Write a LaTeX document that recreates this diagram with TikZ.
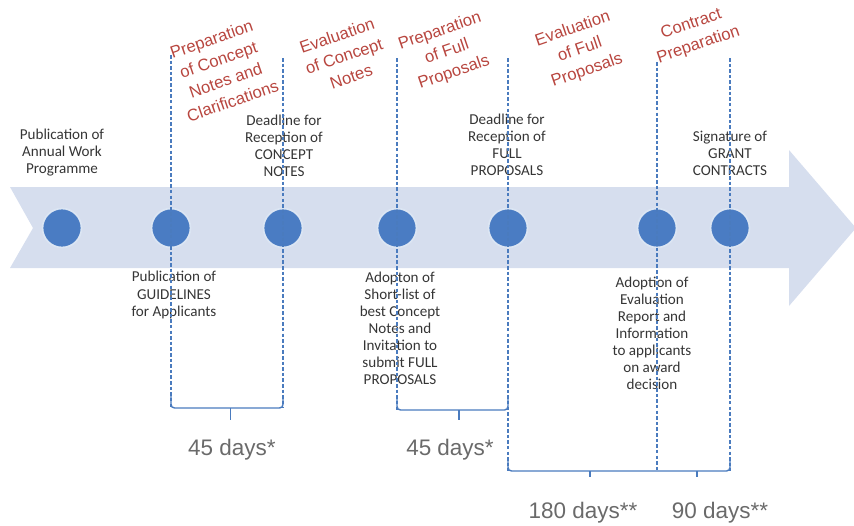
\documentclass[tikz,border=0pt]{standalone}
\usepackage{fontspec}
\setmainfont{Carlito}
\newfontfamily\arialfont{Liberation Sans}
\usetikzlibrary{positioning}
\definecolor{band}{HTML}{D6DEEE}
\definecolor{dot}{HTML}{4A7CC3}
\definecolor{guide}{HTML}{4A7BBE}
\definecolor{phasered}{HTML}{B8463F}
\definecolor{note}{HTML}{353535}
\definecolor{span}{HTML}{6A6A6A}

\begin{document}
\begin{tikzpicture}[x=0.02cm, y=-0.02cm,
        milestone/.style={circle, fill=dot, draw=white!80!dot, line width=1pt, minimum size=0.78cm, inner sep=0pt},
        event/.style={align=center, text=note, inner sep=0pt, font=\fontsize{8.6}{9.7}\selectfont},
        phase/.style={align=center, text=phasered, inner sep=0pt, rotate=19, font=\arialfont\fontsize{9.5}{12.4}\selectfont},
        guide/.style={draw=guide, line width=0.6pt, dash pattern=on 2pt off 1.2pt},
        bracket/.style={draw=guide, line width=0.8pt, rounded corners=2pt},
        days/.style={text=span, inner sep=0pt, font=\arialfont\fontsize{12.8}{14}\selectfont},
    ]
    \useasboundingbox (0,0) rectangle (854,525);
    % timeline arrow
    \fill[band] (10,187) -- (789,187) -- (789,150) -- (856,228) -- (789,306) -- (789,268) -- (10,268) -- (33,228) -- cycle;
    % milestones
    \node[milestone] (m1) at (62,228) {};
    \node[milestone] (m2) at (171,228) {};
    \node[milestone] (m3) at (283,228) {};
    \node[milestone] (m4) at (397,228) {};
    \node[milestone] (m5) at (508,228) {};
    \node[milestone] (m6) at (657,228) {};
    \node[milestone] (m7) at (730,228) {};
    % events
    \node[event] (e1) at (62,153) {Publication of\\Annual Work\\Programme};
    \node[event] (e2) at (174,295) {Publication of\\GUIDELINES\\for Applicants};
    \node[event] (e3) at (284,146) {Deadline for\\Reception of\\CONCEPT\\NOTES};
    \node[event] (e4) at (400,328) {Adopton of\\Short-list of\\best Concept\\Notes and\\Invitation to\\submit FULL\\PROPOSALS};
    \node[event] (e5) at (507,145) {Deadline for\\Reception of\\FULL\\PROPOSALS};
    \node[event] (e6) at (652,333) {Adoption of\\Evaluation\\Report and\\Information\\to applicants\\on award\\decision};
    \node[event] (e7) at (730,153) {Signature of\\GRANT\\CONTRACTS};
    % phases
    \node[phase] (p1) at (222,70) {Preparation\\of Concept\\Notes and\\Clarifications};
    \node[phase] (p2) at (344,56) {Evaluation\\of Concept\\Notes};
    \node[phase] (p3) at (447,52) {Preparation\\of Full\\Proposals};
    \node[phase] (p4) at (580,50) {Evaluation\\of Full\\Proposals};
    \node[phase] (p5) at (695,35) {Contract\\Preparation};
    % guides
    \coordinate (t2) at (171,55);  \coordinate (b2) at (171,408);
    \coordinate (t3) at (283,58);  \coordinate (b3) at (283,408);
    \coordinate (t4) at (397,58);  \coordinate (b4) at (397,410);
    \coordinate (t5) at (508,58);  \coordinate (b5) at (508,471);
    \coordinate (t6) at (657,62);  \coordinate (b6) at (657,471);
    \coordinate (t7) at (730,58);  \coordinate (b7) at (730,471);
    \foreach \i in {2,...,7}
        \draw[guide] (t\i) -- (b\i);
    % brackets
    \draw[bracket] (b2) ++(0,-12) -- (b2) -- coordinate[pos=.53] (k1) (b3) -- ++(0,-12);
    \draw[bracket] (b4) ++(0,-12) -- (b4) -- coordinate[pos=.56] (k2) (b5 |- b4) -- ++(0,-12);
    \draw[bracket] (b5) ++(0,-12) -- (b5) -- coordinate[pos=.55] (k3) (b6) -- coordinate[pos=.55] (k4) (b7) -- ++(0,-12);
    \draw[bracket, rounded corners=0pt] (k1) -- ++(0,12);
    \draw[bracket, rounded corners=0pt] (k2) -- ++(0,10);
    \draw[bracket, rounded corners=0pt] (k3) -- ++(0,6);
    \draw[bracket, rounded corners=0pt] (k4) -- ++(0,6);
    % durations
    \node[days] (d1) at (232,450) {45 days*};
    \node[days] (d2) at (450,450) {45 days*};
    \node[days] (d3) at (583,513) {180 days**};
    \node[days] (d4) at (720,513) {90 days**};
\end{tikzpicture}
\end{document}
